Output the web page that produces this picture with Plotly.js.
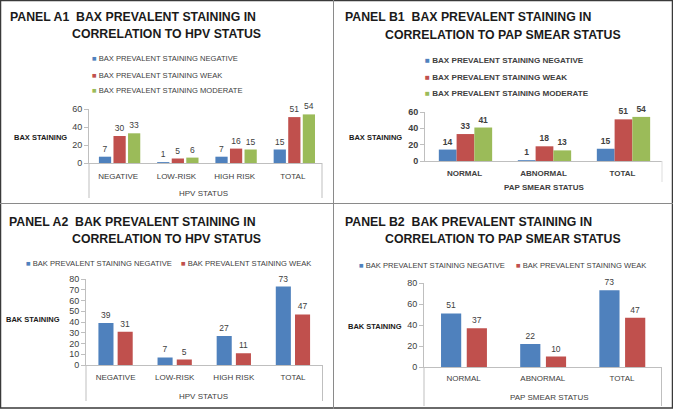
<!DOCTYPE html>
<html>
<head>
<meta charset="utf-8">
<script src="https://cdn.plot.ly/plotly-3.0.1.min.js"></script>
<style>
  html, body { margin: 0; padding: 0; background: #fff; }
  #chart { width: 673px; height: 409px; }
</style>
</head>
<body>
<div id="chart"></div>
<script>
// categories
var hpvCats = ["NEGATIVE", "LOW-RISK", "HIGH RISK", "TOTAL"];
var papCats = ["NORMAL", "ABNORMAL", "TOTAL"];

// series names
var baxNames = ["BAX PREVALENT STAINING NEGATIVE", "BAX PREVALENT STAINING WEAK", "BAX PREVALENT STAINING MODERATE"];
var bakNames = ["BAK PREVALENT STAINING NEGATIVE", "BAK PREVALENT STAINING WEAK"];

// panel A1 - BAX vs HPV
var baxHpvNegative = [7, 1, 7, 15];
var baxHpvWeak = [30, 5, 16, 51];
var baxHpvModerate = [33, 6, 15, 54];

// panel B1 - BAX vs PAP smear
var baxPapNegative = [14, 1, 15];
var baxPapWeak = [33, 18, 51];
var baxPapModerate = [41, 13, 54];

// panel A2 - BAK vs HPV
var bakHpvNegative = [39, 7, 27, 73];
var bakHpvWeak = [31, 5, 11, 47];

// panel B2 - BAK vs PAP smear
var bakPapNegative = [51, 22, 73];
var bakPapWeak = [37, 10, 47];

var W = 673, H = 409;
var FONT = "'Liberation Sans', Arial, sans-serif";
var COLORS = ["#4F81BD", "#C0504D", "#9BBB59"];
var TXT = "#404040";
var DARK = "#1a1a1a";

function px(x) { return x / W; }
function py(y) { return 1 - y / H; }

function bar(x, y, name, color, xa, ya, offset, width, bold) {
    return {
        type: "bar", x: x, y: y, name: name,
        xaxis: xa, yaxis: ya, showlegend: false,
        marker: {color: color},
        offset: offset, width: width,
        text: y, textposition: "outside", cliponaxis: false,
        constraintext: "none",
        textfont: {family: FONT, size: 8.5, color: TXT, weight: bold ? "bold" : "normal"},
        hoverinfo: "x+y"
    };
}

var data = [
    bar(hpvCats, baxHpvNegative, baxNames[0], COLORS[0], "x", "y", -0.33, 0.21),
    bar(hpvCats, baxHpvWeak, baxNames[1], COLORS[1], "x", "y", -0.08, 0.21),
    bar(hpvCats, baxHpvModerate, baxNames[2], COLORS[2], "x", "y", 0.17, 0.21),

    bar(papCats, baxPapNegative, baxNames[0], COLORS[0], "x2", "y2", -0.325, 0.225, true),
    bar(papCats, baxPapWeak, baxNames[1], COLORS[1], "x2", "y2", -0.1, 0.225, true),
    bar(papCats, baxPapModerate, baxNames[2], COLORS[2], "x2", "y2", 0.125, 0.225, true),

    bar(hpvCats, bakHpvNegative, bakNames[0], COLORS[0], "x3", "y3", -0.29, 0.255),
    bar(hpvCats, bakHpvWeak, bakNames[1], COLORS[1], "x3", "y3", 0.035, 0.255),

    bar(papCats, bakPapNegative, bakNames[0], COLORS[0], "x4", "y4", -0.285, 0.255),
    bar(papCats, bakPapWeak, bakNames[1], COLORS[1], "x4", "y4", 0.04, 0.255)
];

function xAx(x0, x1, anchor, n, bold, standoff) {
    return {
        domain: [px(x0), px(x1)], anchor: anchor, type: "category",
        range: [-0.5, n - 0.5], fixedrange: true,
        showline: true, linecolor: "#BFBFBF", linewidth: 1,
        ticks: "", showgrid: false, zeroline: false,
        tickangle: 0, ticklabelstandoff: standoff,
        tickfont: {family: FONT, size: 8, color: TXT, weight: bold ? "bold" : "normal"}
    };
}
function yAx(y0, y1, anchor, max, step, bold) {
    return {
        domain: [py(y0), py(y1)], anchor: anchor,
        range: [0, max], dtick: step, fixedrange: true,
        showline: true, linecolor: "#BFBFBF", linewidth: 1,
        ticks: "outside", ticklen: 4, tickcolor: "#BFBFBF",
        showgrid: false, zeroline: false,
        tickfont: {family: FONT, size: 9, color: TXT, weight: bold ? "bold" : "normal"}
    };
}

function note(text, x, y, opts) {
    opts = opts || {};
    return {
        text: text, xref: "paper", yref: "paper",
        x: px(x), y: py(y), xanchor: opts.xanchor || "left", yanchor: "middle",
        showarrow: false, borderpad: 0,
        font: {family: FONT, size: opts.size || 9, color: opts.color || TXT,
               weight: opts.bold ? "bold" : "normal"}
    };
}

// legend entries: coloured square + series name
function key(name, color, x, y, bold) {
    return note('<span style="color:' + color + '">■</span> ' + name, x, y,
                {size: bold ? 8.1 : 7.6, bold: bold});
}

var TT = {size: 12.3, bold: true, color: DARK, xanchor: "center"};
var YT = {bold: true, xanchor: "center", size: 7.5, color: DARK};
var annotations = [
    // panel titles
    note("PANEL A1  BAX PREVALENT STAINING IN", 133, 17, TT),
    note("CORRELATION TO HPV STATUS", 166.5, 34, TT),
    note("PANEL B1  BAX PREVALENT STAINING IN", 468.5, 17, TT),
    note("CORRELATION TO PAP SMEAR STATUS", 502.5, 35, TT),
    note("PANEL A2  BAK PREVALENT STAINING IN", 132.5, 222, TT),
    note("CORRELATION TO HPV STATUS", 166.5, 239, TT),
    note("PANEL B2  BAK PREVALENT STAINING IN", 468.5, 222, TT),
    note("CORRELATION TO PAP SMEAR STATUS", 502.5, 239, TT),
    // legends
    key(baxNames[0], COLORS[0], 91, 59),
    key(baxNames[1], COLORS[1], 91, 75),
    key(baxNames[2], COLORS[2], 91, 91),
    key(baxNames[0], COLORS[0], 424, 61, true),
    key(baxNames[1], COLORS[1], 424, 77, true),
    key(baxNames[2], COLORS[2], 424, 93, true),
    key(bakNames[0], COLORS[0], 25, 263),
    key(bakNames[1], COLORS[1], 180, 263),
    key(bakNames[0], COLORS[0], 358, 265),
    key(bakNames[1], COLORS[1], 515, 265),
    // y axis titles
    note("BAX STAINING", 40, 137, YT),
    note("BAX STAINING", 375, 137, YT),
    note("BAK STAINING", 33, 319, YT),
    note("BAK STAINING", 375, 326, YT),
    // x axis titles
    note("HPV STATUS", 204, 193, {xanchor: "center", size: 8}),
    note("PAP SMEAR STATUS", 544, 187, {xanchor: "center", size: 8, bold: true}),
    note("HPV STATUS", 204, 396, {xanchor: "center", size: 8}),
    note("PAP SMEAR STATUS", 549, 397, {xanchor: "center", size: 8})
];

function vline(x, y0, y1, color) {
    return {type: "line", xref: "paper", yref: "paper",
            x0: px(x), x1: px(x), y0: py(y0), y1: py(y1),
            line: {color: color, width: 1}};
}

var shapes = [
    // panel frames
    {type: "rect", xref: "paper", yref: "paper", x0: px(0.5), x1: px(672.5), y0: py(408), y1: py(0.5),
     line: {color: "#3a3a3a", width: 1.5}},
    vline(333.5, 0, 409, "#8a8a8a"),
    {type: "line", xref: "paper", yref: "paper", x0: 0, x1: 1, y0: py(203.5), y1: py(203.5),
     line: {color: "#8a8a8a", width: 1}},
    // long category edge ticks
    vline(89, 163, 198, "#BFBFBF"),
    vline(322, 163, 198, "#BFBFBF"),
    vline(662, 161, 182, "#DDDDDD"),
    vline(86, 365, 401, "#BFBFBF"),
    vline(322.5, 365, 401, "#BFBFBF"),
    vline(424, 367, 406, "#BFBFBF"),
    vline(661.5, 367, 406, "#BFBFBF")
];

var layout = {
    width: W, height: H,
    margin: {l: 0, r: 0, t: 0, b: 0},
    paper_bgcolor: "#fff", plot_bgcolor: "rgba(0,0,0,0)",
    barmode: "group",
    showlegend: false,
    xaxis: xAx(89, 322, "y", 4, false, 5),
    yaxis: yAx(163, 109, "x", 60, 20, false),
    xaxis2: xAx(425, 662, "y2", 3, true, 4),
    yaxis2: yAx(161, 112, "x2", 60, 20, true),
    xaxis3: xAx(86, 322.5, "y3", 4, false, 4),
    yaxis3: yAx(365, 279, "x3", 80, 10, false),
    xaxis4: xAx(424, 661.5, "y4", 3, false, 3),
    yaxis4: yAx(367, 283, "x4", 80, 20, false),
    annotations: annotations,
    shapes: shapes
};

Plotly.newPlot("chart", data, layout, {displayModeBar: false, staticPlot: true});
</script>
</body>
</html>
